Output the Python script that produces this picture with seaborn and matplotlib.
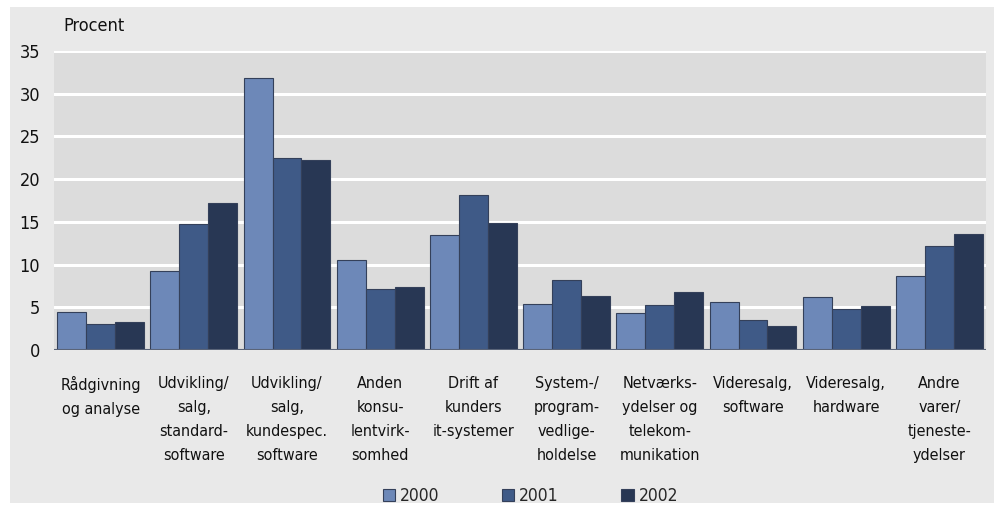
import matplotlib
matplotlib.use("Agg")
import matplotlib.pyplot as plt
import seaborn as sns
import pandas as pd
from matplotlib.patches import Rectangle

categories = [
    "Rådgivning\nog analyse",
    "Udvikling/\nsalg,\nstandard-\nsoftware",
    "Udvikling/\nsalg,\nkundespec.\nsoftware",
    "Anden\nkonsu-\nlentvirk-\nsomhed",
    "Drift af\nkunders\nit-systemer",
    "System-/\nprogram-\nvedlige-\nholdelse",
    "Netværks-\nydelser og\ntelekom-\nmunikation",
    "Videresalg,\nsoftware",
    "Videresalg,\nhardware",
    "Andre\nvarer/\ntjeneste-\nydelser",
]
years = ["2000", "2001", "2002"]
v2000 = [4.5, 9.2, 31.8, 10.5, 13.5, 5.4, 4.3, 5.6, 6.2, 8.7]
v2001 = [3.0, 14.7, 22.5, 7.1, 18.1, 8.2, 5.3, 3.5, 4.8, 12.2]
v2002 = [3.3, 17.2, 22.3, 7.4, 14.9, 6.3, 6.8, 2.8, 5.1, 13.6]
yticks = [0, 5, 10, 15, 20, 25, 30, 35]

colors = ["#6d88b8", "#3f5a87", "#283754"]

df = pd.DataFrame({
    "kategori": categories * 3,
    "år": [y for y in years for _ in categories],
    "procent": v2000 + v2001 + v2002,
})

sns.set_style("white")
plt.rcParams["font.family"] = ["DejaVu Sans"]
plt.rcParams["font.stretch"] = "condensed"
plt.rcParams["font.size"] = 11.5

fig = plt.figure(figsize=(9.97, 5.08), dpi=100)
fig.patch.set_facecolor("white")
fig.patches.append(Rectangle((0.010, 0.0098), 0.987, 0.976, transform=fig.transFigure,
                             facecolor="#e9e9e9", edgecolor="none", zorder=-10))

ax = fig.add_axes([0.0542, 0.311, 0.9348, 0.5886])
ax.set_facecolor("#dcdcdc")

sns.barplot(data=df, x="kategori", y="procent", hue="år", palette=colors,
            saturation=1, width=0.93, edgecolor="#34405a", linewidth=0.8,
            ax=ax, zorder=3)

ax.set_ylim(0, 35)
ax.set_yticks(yticks)
ax.yaxis.grid(True, color="white", linewidth=2.2, zorder=0)
ax.set_axisbelow(True)
for s in ax.spines.values():
    s.set_visible(False)
ax.axhline(0, color="#5a6478", linewidth=1.5, zorder=4)
ax.tick_params(axis="both", length=0, colors="#111111")
ax.tick_params(axis="y", pad=10, labelsize=13)
ax.tick_params(axis="x", pad=19)
ax.set_xticks(range(len(categories)))
ax.set_xticklabels(categories, fontsize=11.5, linespacing=1.74, ha="center")
ax.set_xlabel("")
ax.set_ylabel("")

fig.text(0.064, 0.948, "Procent", fontsize=13, color="#111111", va="center")

ax.legend(loc="center", bbox_to_anchor=(0.532, 0.024), bbox_transform=fig.transFigure,
          ncol=3, frameon=False, fontsize=12.5, handlelength=0.7, handleheight=0.7,
          handletextpad=0.3, columnspacing=3.6)

fig.savefig("out.png", dpi=100)
